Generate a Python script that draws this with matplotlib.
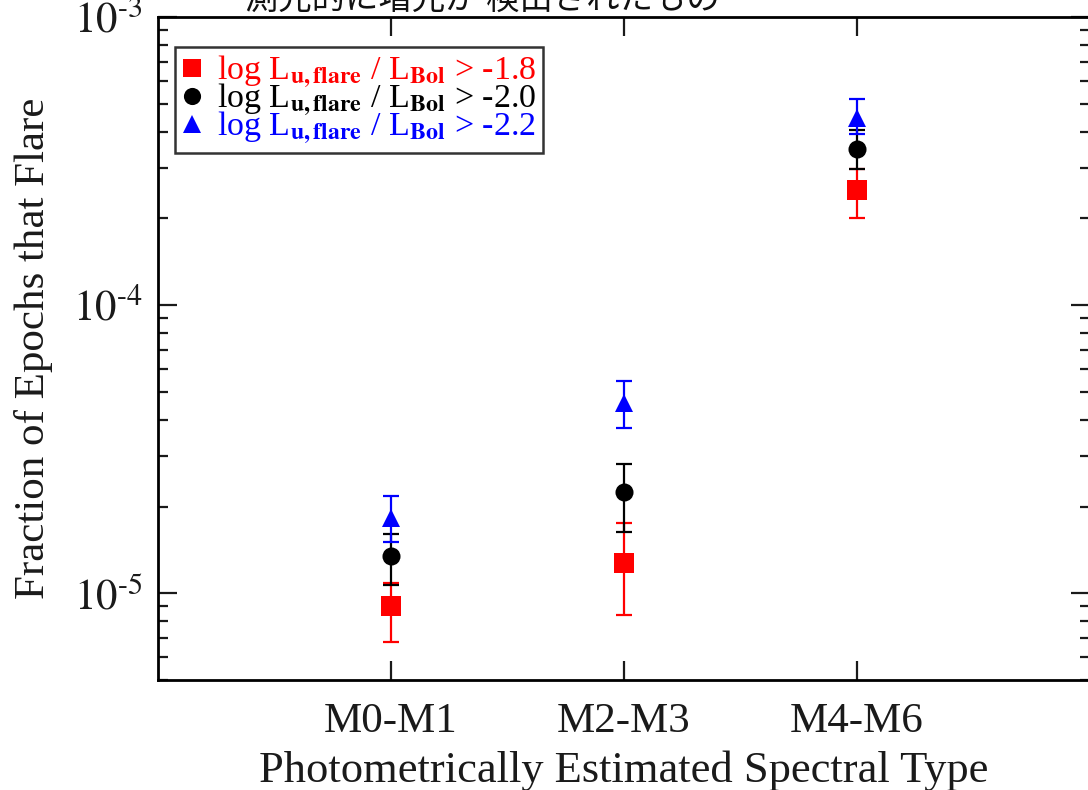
import numpy as np
import matplotlib
matplotlib.use("Agg")
import matplotlib.pyplot as plt

plt.rcParams["font.family"] = ["Liberation Serif", "DejaVu Serif"]
plt.rcParams["mathtext.fontset"] = "stix"

# spectral type bins
types = ["M0-M1", "M2-M3", "M4-M6"]
xpos = [1, 2, 3]

# fraction of epochs that flare, with upper / lower bounds
frac_18 = [9.0e-6, 1.27e-5, 2.5e-4]
hi_18 = [1.09e-5, 1.75e-5, 2.96e-4]
lo_18 = [6.8e-6, 8.4e-6, 2.0e-4]

frac_20 = [1.35e-5, 2.24e-5, 3.47e-4]
hi_20 = [1.61e-5, 2.82e-5, 4.06e-4]
lo_20 = [1.07e-5, 1.63e-5, 2.96e-4]

frac_22 = [1.83e-5, 4.58e-5, 4.47e-4]
hi_22 = [2.17e-5, 5.46e-5, 5.2e-4]
lo_22 = [1.51e-5, 3.75e-5, 3.94e-4]

cuts = ["-1.8", "-2.0", "-2.2"]
ytick_vals = [1e-5, 1e-4, 1e-3]
ytick_labels = [r"$10^{\text{-}5}$", r"$10^{\text{-}4}$", r"$10^{\text{-}3}$"]

fig = plt.figure(figsize=(10.88, 7.90), dpi=100)
ax = fig.add_axes([0.1452, 0.1392, 0.8566, 0.8393])

series = [
    (frac_18, hi_18, lo_18, "#ff0000", "s", 14, cuts[0]),
    (frac_20, hi_20, lo_20, "#000000", "o", 13, cuts[1]),
    (frac_22, hi_22, lo_22, "#0000ff", "^", 13, cuts[2]),
]

handles = []
labels = []
for vals, hi, lo, col, mk, ms, cut in series:
    v = np.array(vals)
    yerr = [v - np.array(lo), np.array(hi) - v]
    ax.errorbar(xpos, v, yerr=yerr, fmt="none", ecolor=col,
                elinewidth=1.6, capsize=6, capthick=1.6, zorder=2)
    h, = ax.plot(xpos, v, linestyle="none", marker=mk, markersize=ms,
                 color=col, markeredgewidth=0, zorder=3)
    handles.append(h)
    labels.append(r"log L$_{\mathbf{u,flare}}$ / L$_{\mathbf{Bol}}$ > " + cut)

ax.set_yscale("log")
ax.set_ylim(5e-6, 1e-3)
ax.set_xlim(0, 4)

ax.set_xticks(xpos)
ax.set_xticklabels(types)
ax.set_yticks(ytick_vals)
ax.set_yticklabels(ytick_labels)

ax.tick_params(axis="both", which="both", direction="in",
               top=True, right=True, colors="#1a1a1a", labelsize=31)
ax.tick_params(axis="both", which="major", length=14, width=1.6)
ax.tick_params(axis="y", which="minor", length=7, width=1.6)
ax.tick_params(axis="x", which="minor", length=0)
ax.tick_params(axis="y", which="major", pad=11)
ax.tick_params(axis="x", which="major", pad=16)

for sp in ax.spines.values():
    sp.set_linewidth(2.0)

ax.set_xlabel("Photometrically Estimated Spectral Type", fontsize=32,
              color="#1a1a1a", labelpad=7)
ax.set_ylabel("Fraction of Epochs that Flare", fontsize=31,
              color="#1a1a1a", labelpad=14)

leg = ax.legend(handles, labels, loc="upper left", bbox_to_anchor=(0.018, 0.955),
                fontsize=24.5, frameon=True, fancybox=False, edgecolor="black",
                handlelength=0.6, handletextpad=0.45, labelspacing=-0.25,
                borderpad=0.2, borderaxespad=0, markerscale=0.95)
leg.get_frame().set_linewidth(1.8)
for txt, (_, _, _, col, _, _, _) in zip(leg.get_texts(), series):
    txt.set_color(col)

fig.text(0.443, 0.9886, "測光的に増光が 検出されたもの", fontsize=24,
         family=["Noto Sans CJK JP", "DejaVu Sans"], color="#111111",
         ha="center", va="baseline")

fig.savefig("out.png", dpi=100)
